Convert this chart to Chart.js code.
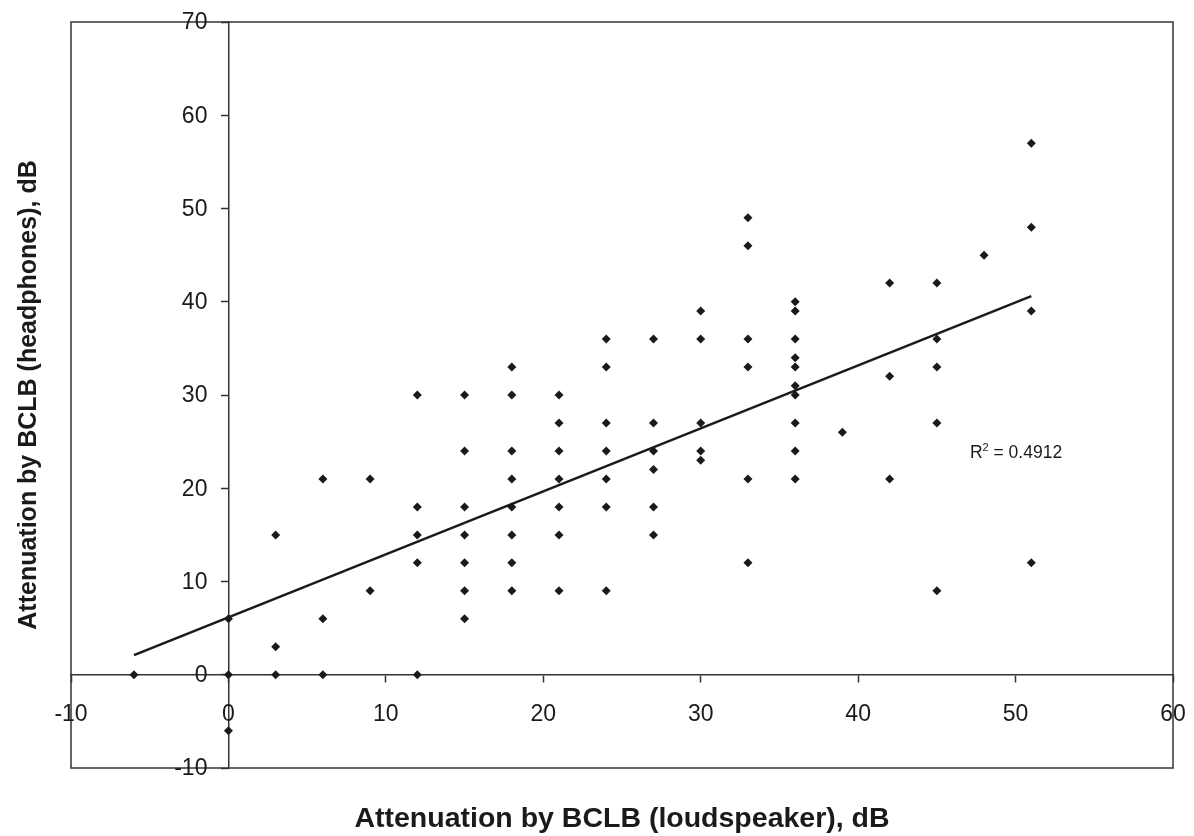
<!DOCTYPE html>
<html>
<head>
<meta charset="utf-8">
<script src="https://cdn.jsdelivr.net/npm/chart.js@4"></script>
<style>
  body { margin: 0; background: #fff; }
  #wrap { width: 1194px; height: 836px; position: relative; }
</style>
</head>
<body>
<div id="wrap"><canvas id="chart"></canvas></div>
<script>
// attenuation readings, one row per loudspeaker value
const pointX = [
  -6,
  0, 0, 0,
  3, 3, 3,
  6, 6, 6,
  9, 9,
  12, 12, 12, 12, 12,
  15, 15, 15, 15, 15, 15, 15,
  18, 18, 18, 18, 18, 18, 18, 18,
  21, 21, 21, 21, 21, 21, 21,
  24, 24, 24, 24, 24, 24, 24,
  27, 27, 27, 27, 27, 27,
  30, 30, 30, 30, 30,
  33, 33, 33, 33, 33, 33,
  36, 36, 36, 36, 36, 36, 36, 36, 36, 36,
  39,
  42, 42, 42,
  45, 45, 45, 45, 45,
  48,
  51, 51, 51, 51
];
const pointY = [
  0,
  6, 0, -6,
  15, 3, 0,
  21, 6, 0,
  21, 9,
  30, 18, 15, 12, 0,
  30, 24, 18, 15, 12, 9, 6,
  33, 30, 24, 21, 18, 15, 12, 9,
  30, 27, 24, 21, 18, 15, 9,
  36, 33, 27, 24, 21, 18, 9,
  36, 27, 24, 22, 18, 15,
  39, 36, 27, 24, 23,
  49, 46, 36, 33, 21, 12,
  40, 39, 36, 34, 33, 31, 30, 27, 24, 21,
  26,
  42, 32, 21,
  42, 36, 33, 27, 9,
  45,
  57, 48, 39, 12
];

// linear trend line end points as drawn
const trendX = [-6, 51];
const trendY = [2.1, 40.6];

const xTicks = [-10, 0, 10, 20, 30, 40, 50, 60];
const yTicks = [-10, 0, 10, 20, 30, 40, 50, 60, 70];

const rSquared = '0.4912';
const xTitle = 'Attenuation by BCLB (loudspeaker), dB';
const yTitle = 'Attenuation by BCLB (headphones), dB';

const FONT = '"Liberation Sans", Arial, sans-serif';
const INK = '#1a1a1a';
const TICK_LEN = 7;

const scatterData = pointX.map((x, i) => ({ x: x, y: pointY[i] }));
const trendData = trendX.map((x, i) => ({ x: x, y: trendY[i] }));

// frame, tick labels next to the crossing axes, titles and the R² note
const framePlugin = {
  id: 'frame',
  beforeDraw(chart) {
    const { ctx, chartArea } = chart;
    ctx.save();
    ctx.fillStyle = '#fff';
    ctx.fillRect(0, 0, chart.width, chart.height);
    ctx.strokeStyle = '#333';
    ctx.lineWidth = 1.5;
    ctx.strokeRect(chartArea.left, chartArea.top,
      chartArea.right - chartArea.left, chartArea.bottom - chartArea.top);
    ctx.restore();
  },
  afterDraw(chart) {
    const { ctx, chartArea, scales } = chart;
    const xs = scales.x, ys = scales.y;
    const axisX = xs.getPixelForValue(0);
    const axisY = ys.getPixelForValue(0);

    ctx.save();
    ctx.fillStyle = INK;
    ctx.font = '23px ' + FONT;
    ctx.textBaseline = 'middle';
    ctx.textAlign = 'right';
    ys.ticks.forEach(t => {
      ctx.fillText(String(t.value), axisX - TICK_LEN - 14, ys.getPixelForValue(t.value) + 1);
    });
    ctx.textAlign = 'center';
    xs.ticks.forEach(t => {
      ctx.fillText(String(t.value), xs.getPixelForValue(t.value), axisY + 40);
    });

    ctx.textBaseline = 'alphabetic';
    // x title
    ctx.font = 'bold 28.5px ' + FONT;
    ctx.fillText(xTitle, (chartArea.left + chartArea.right) / 2, 827);

    // y title
    ctx.font = 'bold 25px ' + FONT;
    ctx.translate(36, (chartArea.top + chartArea.bottom) / 2);
    ctx.rotate(-Math.PI / 2);
    ctx.fillText(yTitle, 0, 0);
    ctx.restore();

    // R squared label
    ctx.save();
    ctx.fillStyle = INK;
    ctx.textBaseline = 'alphabetic';
    ctx.textAlign = 'left';
    let lx = xs.getPixelForValue(47.1);
    const ly = ys.getPixelForValue(23.2);
    ctx.font = '17.5px ' + FONT;
    ctx.fillText('R', lx, ly);
    lx += ctx.measureText('R').width;
    ctx.font = '11px ' + FONT;
    ctx.fillText('2', lx, ly - 7);
    lx += ctx.measureText('2').width;
    ctx.font = '17.5px ' + FONT;
    ctx.fillText(' = ' + rSquared, lx, ly);
    ctx.restore();
  }
};

const axisGrid = {
  display: true,
  drawOnChartArea: false,
  drawTicks: true,
  tickLength: TICK_LEN,
  color: '#333',
  tickWidth: 1.5
};

new Chart(document.getElementById('chart'), {
  type: 'scatter',
  data: {
    datasets: [{
      label: 'readings',
      data: scatterData,
      pointStyle: 'rectRot',
      pointRadius: 4.5,
      pointBackgroundColor: INK,
      pointBorderColor: INK,
      pointBorderWidth: 0,
      order: 1
    }, {
      type: 'line',
      label: 'trend',
      data: trendData,
      borderColor: INK,
      borderWidth: 2.5,
      pointRadius: 0,
      fill: false,
      order: 0
    }]
  },
  options: {
    responsive: true,
    maintainAspectRatio: false,
    animation: false,
    layout: {
      padding: { left: 71, top: 22, right: 21, bottom: 68 }
    },
    plugins: {
      legend: { display: false },
      tooltip: { enabled: false }
    },
    scales: {
      x: {
        type: 'linear',
        position: { y: 0 },
        min: -10,
        max: 60,
        afterBuildTicks: axis => { axis.ticks = xTicks.map(v => ({ value: v })); },
        grid: axisGrid,
        border: { display: true, color: '#333', width: 1.5 },
        ticks: { display: false }
      },
      y: {
        type: 'linear',
        position: { x: 0 },
        min: -10,
        max: 70,
        afterBuildTicks: axis => { axis.ticks = yTicks.map(v => ({ value: v })); },
        grid: axisGrid,
        border: { display: true, color: '#333', width: 1.5 },
        ticks: { display: false }
      }
    }
  },
  plugins: [framePlugin]
});
</script>
</body>
</html>
